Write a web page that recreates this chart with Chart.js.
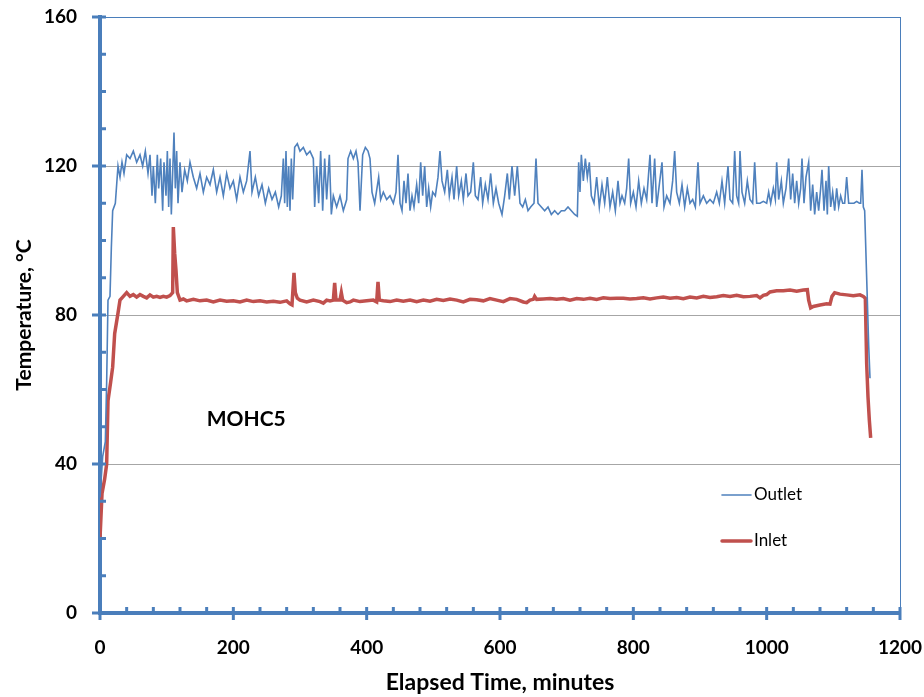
<!DOCTYPE html>
<html lang="en">
<head>
    <meta charset="UTF-8">
    <title>MOHC5 Temperature</title>
    <script src="https://cdn.jsdelivr.net/npm/chart.js"></script>
    <style>
        body { margin: 0; background: #fff; }
        .chart-container { width: 924px; height: 697px; position: relative; }
    </style>
</head>
<body>
    <div class="chart-container">
        <canvas id="tempChart"></canvas>
    </div>

    <script>
        // Outlet: [minutes, °C]
        const outlet = [
            [0,31],[4,42],[8,46],[10,62],[12,84],[15,85],[17,98],[19,108],[23,110],[27,120],
            [30,117],[33,121],[36,118],[40,123],[45,122],[50,124],[55,121],[60,123],[64,120],[68,124],
            [72,118],[75,123],[78,112],[80,120],[83,110],[86,123],[88,114],[91,122],[94,108],[96,121],
            [99,112],[101,124],[103,109],[105,122],[107,107],[109,118],[111,129],[113,114],[115,124],[117,110],
            [120,121],[123,113],[127,119],[131,116],[135,121],[140,117],[145,114],[150,118],[155,113],[160,117],
            [165,115],[170,119],[175,113],[180,117],[185,112],[190,118],[195,114],[200,116],[205,111],[210,117],
            [215,113],[220,116],[225,124],[228,113],[233,117],[238,112],[243,115],[248,110],[253,114],[258,111],
            [263,113],[268,109],[272,112],[275,122],[277,110],[279,124],[281,109],[283,120],[285,108],[287,122],
            [289,111],[292,125],[296,126],[300,124],[305,125],[310,123],[315,124],[320,122],[322,109],[325,120],
            [328,110],[331,124],[334,108],[337,122],[340,111],[344,123],[347,107],[350,112],[355,109],[360,112],
            [365,108],[370,111],[372,122],[376,124],[380,122],[384,124],[387,121],[390,108],[394,123],[398,125],
            [402,124],[405,122],[408,113],[412,110],[418,117],[421,111],[425,113],[430,111],[435,112],[440,110],
            [444,113],[447,123],[450,110],[453,108],[456,116],[459,110],[462,118],[465,108],[468,112],[471,109],
            [475,115],[478,110],[481,121],[484,112],[487,120],[490,109],[493,114],[496,109],[499,113],[503,112],
            [507,117],[510,124],[513,116],[517,113],[521,119],[524,112],[528,117],[531,111],[535,120],[538,112],
            [542,116],[545,111],[549,118],[552,112],[556,113],[560,121],[563,112],[567,111],[571,117],[574,110],
            [578,115],[582,111],[586,118],[590,110],[594,114],[598,110],[603,107],[607,112],[611,118],[614,111],
            [618,120],[622,112],[626,120],[630,110],[634,109],[638,111],[642,108],[646,109],[651,110],[654,122],
            [657,110],[662,109],[667,108],[672,109],[677,107],[682,108],[687,107],[692,108],[697,108],[702,109],
            [707,108],[712,107],[716,106.5],[718,121],[720,113],[722,123],[725,116],[728,122],[731,117],[734,121],
            [737,112],[741,110],[745,117],[749,109],[753,115],[757,110],[761,117],[765,109],[769,113],[773,108],
            [777,116],[780,110],[783,112],[787,110],[790,114],[793,122],[796,110],[800,113],[804,109],[808,116],
            [812,110],[816,114],[820,111],[825,123],[828,110],[832,122],[835,109],[839,115],[843,121],[846,109],
            [850,112],[855,110],[859,116],[862,124],[865,113],[869,110],[873,115],[877,109],[881,114],[885,110],
            [889,111],[893,109],[897,121],[900,110],[905,112],[910,110],[915,111],[920,110],[925,113],[929,110],
            [933,116],[937,110],[942,120],[945,111],[949,110],[952,124],[955,112],[958,110],[960,124],[963,113],
            [967,110],[971,116],[975,111],[979,110],[982,121],[985,110],[990,110],[995,110.5],[1000,110],[1003,113],
            [1006,110],[1010,114],[1013,111],[1015,121],[1018,111],[1022,116],[1025,110],[1029,114],[1033,122],[1036,111],
            [1039,118],[1042,110],[1045,116],[1048,110],[1051,114],[1053,122],[1056,110],[1059,117],[1063,121],[1066,108],
            [1069,115],[1072,107],[1075,113],[1078,108],[1081,114],[1083,119],[1086,108],[1089,116],[1091,107],[1093,120],
            [1096,109],[1099,113],[1102,108],[1105,114],[1108,109],[1111,112],[1114,110],[1117,110],[1120,117],[1123,110],
            [1127,110],[1131,110],[1135,110.5],[1139,110],[1141,110],[1143,119],[1145,109],[1147,108],[1150,90],[1153,72],
            [1155,63]
        ];

        // Inlet: [minutes, °C]
        const inlet = [
            [0,20],[3,32],[7,36],[10,40],[12,57],[16,62],[19,66],[22,75],[27,80.5],[30,84],
            [33,84.6],[40,86],[45,85],[50,85.5],[55,84.8],[60,85.5],[65,85],[70,84.6],[75,85.4],[80,84.8],
            [85,85],[90,84.7],[95,85],[100,84.8],[105,85.2],[109,86],[110,103.6],[112,96.6],[114,92],[116,86],
            [120,84],[125,84.3],[130,83.8],[140,84.2],[150,83.8],[160,84],[170,83.5],[180,84],[190,83.7],[200,83.8],
            [210,83.5],[220,84],[230,83.6],[240,83.8],[250,83.5],[260,83.7],[270,83.4],[280,83.8],[285,83],[288,82.7],
            [291,91.3],[293,86],[296,84.5],[300,84],[310,83.5],[320,84],[330,83.6],[335,83.2],[340,84],[345,83.8],
            [350,84],[352,88.6],[354,84],[360,84],[362,86],[364,84],[370,83.3],[375,83.5],[380,84],[390,83.6],
            [400,83.8],[410,84],[415,83.5],[417,88.9],[419,84],[425,83.8],[435,83.6],[445,84],[455,83.7],[465,84],
            [475,83.6],[485,84],[495,83.7],[505,84.2],[515,83.9],[525,84.3],[535,84],[545,83.5],[555,84.2],[565,84.1],
            [575,83.8],[585,84.4],[595,84],[605,83.6],[615,84.4],[625,84.2],[635,83.5],[640,83.3],[645,84],[650,84.2],
            [652,85],[655,84.2],[665,84.3],[675,84.4],[685,84.2],[695,84.4],[705,84],[715,84.4],[725,84.2],[735,84.5],
            [745,84.2],[755,84.6],[765,84.4],[775,84.5],[785,84.5],[795,84.3],[805,84.4],[815,84.6],[825,84.3],[835,84.6],
            [845,84.8],[855,84.5],[865,84.7],[875,84.4],[885,84.8],[895,84.6],[905,85],[915,84.7],[925,84.9],[935,85.2],
            [945,85],[955,85.3],[965,84.9],[975,85],[985,85.2],[990,84.6],[995,85.3],[1000,85.5],[1005,86.2],[1015,86.5],
            [1025,86.5],[1035,86.7],[1045,86.4],[1055,86.7],[1061,86.8],[1063,84],[1066,81.9],[1070,82.3],[1080,82.7],[1090,83],
            [1095,82.9],[1098,85],[1102,86],[1110,85.6],[1120,85.4],[1130,85.2],[1140,85.4],[1145,85],[1148,84.5],[1150,67],
            [1152,58],[1154,51.8],[1156,47]
        ];

        const xMajor = 200, xMinor = 40, xMax = 1200;
        const yMajor = 40, yMinor = 10, yMax = 160;
        const noteText = 'MOHC5';
        const notePos = [160, 52];

        const axisBlue = '#4a7ebb';
        const gridGray = '#a6a6a6';
        const fontFamily = 'Lato, "Open Sans", sans-serif';

        // tick marks crossing the axes like the spreadsheet style
        const tickMarks = {
            id: 'tickMarks',
            afterDatasetsDraw(chart) {
                const { ctx, scales: { x, y }, chartArea } = chart;
                ctx.save();
                ctx.strokeStyle = axisBlue;
                ctx.lineWidth = 3;
                for (let v = 0; v <= xMax; v += xMinor) {
                    const px = x.getPixelForValue(v);
                    const major = v % xMajor === 0;
                    ctx.beginPath();
                    ctx.moveTo(px, chartArea.bottom + (major ? 7 : 0));
                    ctx.lineTo(px, chartArea.bottom - 6);
                    ctx.stroke();
                }
                for (let v = 0; v <= yMax; v += yMinor) {
                    const py = y.getPixelForValue(v);
                    const major = v % yMajor === 0;
                    ctx.beginPath();
                    ctx.moveTo(chartArea.left - (major ? 8 : 0), py);
                    ctx.lineTo(chartArea.left + 6, py);
                    ctx.stroke();
                }
                // note text
                ctx.fillStyle = '#000';
                ctx.font = 'bold 21px ' + fontFamily;
                ctx.textBaseline = 'middle';
                ctx.fillText(noteText, x.getPixelForValue(notePos[0]), y.getPixelForValue(notePos[1]));

                // legend inside the plot
                ctx.font = '17px ' + fontFamily;
                chart.data.datasets.forEach((ds, i) => {
                    const ly = 495 + i * 46;
                    ctx.strokeStyle = ds.borderColor;
                    ctx.lineWidth = ds.borderWidth;
                    ctx.lineCap = 'round';
                    ctx.beginPath();
                    ctx.moveTo(722, ly);
                    ctx.lineTo(751, ly);
                    ctx.stroke();
                    ctx.fillText(ds.label, 754, ly);
                });
                ctx.restore();
            }
        };

        const toXY = arr => arr.map(p => ({ x: p[0], y: p[1] }));

        const ctx = document.getElementById('tempChart').getContext('2d');
        const tempChart = new Chart(ctx, {
            type: 'line',
            data: {
                datasets: [
                    {
                        label: 'Outlet',
                        data: toXY(outlet),
                        borderColor: '#4f81bd',
                        borderWidth: 1.6,
                        pointRadius: 0,
                        tension: 0
                    },
                    {
                        label: 'Inlet',
                        data: toXY(inlet),
                        borderColor: '#c0504d',
                        borderWidth: 3.5,
                        pointRadius: 0,
                        tension: 0
                    }
                ]
            },
            options: {
                responsive: true,
                maintainAspectRatio: false,
                animation: false,
                layout: { padding: { top: 17, right: 24, left: 0, bottom: 0 } },
                plugins: {
                    legend: { display: false },
                    tooltip: { enabled: false }
                },
                scales: {
                    x: {
                        type: 'linear',
                        min: 0,
                        max: xMax,
                        afterFit: s => { s.height = 84; s.paddingLeft = 0; s.paddingRight = 0; },
                        border: { color: axisBlue, width: 4 },
                        grid: {
                            drawTicks: false,
                            color: c => c.tick && c.tick.value === xMax ? axisBlue : 'rgba(0,0,0,0)',
                            lineWidth: 1
                        },
                        ticks: {
                            stepSize: xMinor,
                            autoSkip: false,
                            maxRotation: 0,
                            padding: 23,
                            color: '#000',
                            font: { family: fontFamily, size: 19, weight: 'bold' },
                            callback: v => v % xMajor === 0 ? v : ''
                        },
                        title: {
                            display: true,
                            text: 'Elapsed Time, minutes',
                            color: '#000',
                            padding: { top: 0, bottom: 1 },
                            font: { family: fontFamily, size: 23, weight: 'bold' }
                        }
                    },
                    y: {
                        min: 0,
                        max: yMax,
                        afterFit: s => { s.width = 100; s.paddingTop = 0; s.paddingBottom = 0; },
                        border: { color: axisBlue, width: 4 },
                        grid: {
                            drawTicks: false,
                            color: c => {
                                const v = c.tick && c.tick.value;
                                if (v === yMax) return axisBlue;
                                if (v > 0 && v % yMajor === 0) return gridGray;
                                return 'rgba(0,0,0,0)';
                            },
                            lineWidth: 1
                        },
                        ticks: {
                            stepSize: yMinor,
                            autoSkip: false,
                            padding: 23,
                            color: '#000',
                            font: { family: fontFamily, size: 19, weight: 'bold' },
                            callback: v => v % yMajor === 0 ? v : ''
                        },
                        title: {
                            display: true,
                            text: 'Temperature, °C',
                            color: '#000',
                            padding: { top: 12, bottom: 0 },
                            font: { family: fontFamily, size: 21, weight: 'bold' }
                        }
                    }
                }
            },
            plugins: [tickMarks]
        });
    </script>
</body>
</html>
